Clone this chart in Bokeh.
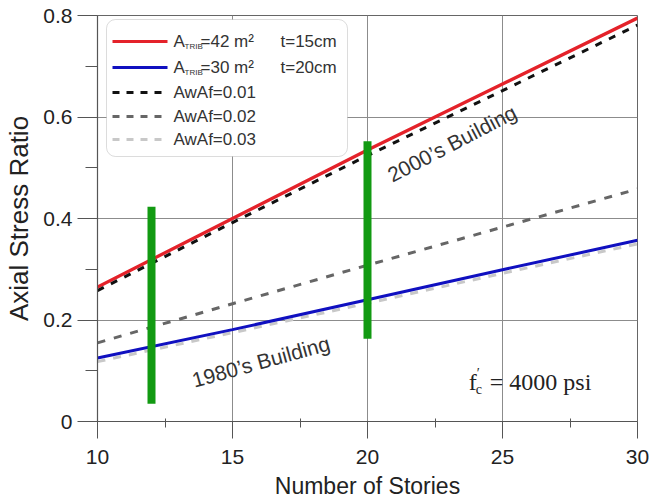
from bokeh.plotting import figure
from bokeh.models import Range1d, FixedTicker, Label, Arrow, BoxAnnotation
from bokeh.embed import file_html
from bokeh.resources import INLINE

# ---------------- data ----------------
stories = [10, 15, 20, 25, 30]
red_42m2 = [0.265, 0.400, 0.535, 0.665, 0.795]
blue_30m2 = [0.125, 0.181, 0.240, 0.299, 0.357]
awaf_001 = [0.258, 0.392, 0.524, 0.652, 0.781]
awaf_002 = [0.155, 0.232, 0.308, 0.383, 0.458]
awaf_003 = [0.118, 0.175, 0.233, 0.292, 0.350]

bar_x = [12, 20]
bar_bottom = [0.035, 0.163]
bar_top = [0.423, 0.552]

xticks = [10, 15, 20, 25, 30]
xminor = [12.5, 17.5, 22.5, 27.5]
yticks = [0, 0.2, 0.4, 0.6, 0.8]
ytick_labels = ["0", "0.2", "0.4", "0.6", "0.8"]
yminor = [0.1, 0.3, 0.5, 0.7]

FONT = "Liberation Sans"

p = figure(width=649, height=501, x_range=Range1d(10, 30), y_range=Range1d(0, 0.8),
           output_backend="svg", toolbar_location=None,
           min_border_left=97, min_border_right=12, min_border_top=15, min_border_bottom=79,
           x_axis_label="Number of Stories", y_axis_label="Axial Stress Ratio")
p.background_fill_color = "white"
p.border_fill_color = "white"
p.outline_line_color = "#666666"
p.outline_line_width = 1

p.xaxis.ticker = FixedTicker(ticks=xticks, minor_ticks=xminor)
p.yaxis.ticker = FixedTicker(ticks=yticks, minor_ticks=yminor)
p.yaxis.major_label_overrides = dict(zip(yticks, ytick_labels))

for ax in (p.xaxis[0], p.yaxis[0]):
    ax.axis_line_color = "#555555"
    ax.axis_line_width = 1.2
    ax.major_tick_line_color = "#555555"
    ax.minor_tick_line_color = "#555555"
    ax.major_tick_in = 0
    ax.axis_label_text_font = FONT
    ax.axis_label_text_font_style = "normal"
    ax.axis_label_text_color = "#222222"
    ax.major_label_text_font = FONT
    ax.major_label_text_color = "#222222"

p.xaxis.major_tick_out = 17
p.xaxis.minor_tick_out = 6
p.xaxis.minor_tick_in = 3
p.xaxis.major_label_standoff = 11
p.xaxis.major_label_text_font_size = "21px"
p.xaxis.axis_label_text_font_size = "23px"
p.xaxis.axis_label_standoff = 6

p.yaxis.major_tick_out = 20
p.yaxis.minor_tick_out = 12
p.yaxis.minor_tick_in = 0
p.yaxis.major_label_standoff = 5
p.yaxis.major_label_text_font_size = "21px"
p.yaxis.axis_label_text_font_size = "26px"
p.yaxis.axis_label_standoff = 6

p.xgrid.ticker = FixedTicker(ticks=xticks)
p.ygrid.ticker = FixedTicker(ticks=yticks)
p.grid.grid_line_color = "#8c8c8c"
p.grid.grid_line_width = 1

# ---------------- series ----------------
p.line(stories, awaf_003, line_color="#c8c8c8", line_width=3, line_dash="8 8")
p.line(stories, blue_30m2, line_color="#1010c0", line_width=3)
p.line(stories, awaf_002, line_color="#666666", line_width=3, line_dash="8 9")
p.line(stories, red_42m2, line_color="#e4222a", line_width=3.3)
p.line(stories, awaf_001, line_color="#111111", line_width=3, line_dash="7 8")

p.segment(x0=bar_x, y0=bar_bottom, x1=bar_x, y1=bar_top,
          line_color="#129a12", line_width=8, line_cap="butt")

# ---------------- annotations ----------------
p.add_layout(Label(x=23.13, y=0.548, text="2000\u2019s Building", angle=0.48,
                   text_align="center", text_baseline="middle",
                   text_font=FONT, text_font_size="21px", text_color="#333333"))
p.add_layout(Label(x=16.05, y=0.118, text="1980\u2019s Building", angle=0.27,
                   text_align="center", text_baseline="middle",
                   text_font=FONT, text_font_size="21px", text_color="#333333"))

SERIF = "Liberation Serif"
FX, FY = 23.75, 0.077
p.add_layout(Label(x=FX, y=FY, text="f", text_align="left", text_baseline="middle",
                   text_font=SERIF, text_font_size="24px", text_color="#222222"))
p.add_layout(Label(x=FX, y=FY, x_offset=7, y_offset=-7, text="c", text_align="left",
                   text_baseline="middle", text_font=SERIF, text_font_size="14px",
                   text_color="#222222"))
p.add_layout(Label(x=FX, y=FY, x_offset=8, y_offset=9, text="\u2032", text_align="left",
                   text_baseline="middle", text_font=SERIF, text_font_size="14px",
                   text_color="#222222"))
p.add_layout(Label(x=FX, y=FY, x_offset=21, text="= 4000 psi", text_align="left",
                   text_baseline="middle", text_font=SERIF, text_font_size="24px",
                   text_color="#222222"))

# ---------------- legend (drawn by hand, screen units relative to frame) ----------------
legend_labels = ["=42 m\u00b2", "=30 m\u00b2", "AwAf=0.01", "AwAf=0.02", "AwAf=0.03"]
legend_extra = ["t=15cm", "t=20cm", "", "", ""]
legend_colors = ["#e4222a", "#1010c0", "#111111", "#666666", "#c8c8c8"]
legend_dash = ["solid", "solid", "7 7", "7 7", "7 7"]

p.add_layout(BoxAnnotation(left=9, right=250, top=402, bottom=265,
                           left_units="screen", right_units="screen",
                           top_units="screen", bottom_units="screen",
                           fill_color="white", fill_alpha=1.0,
                           line_color="#8a8a8a", line_width=1, border_radius=9))
row_y = [380, 354, 329, 305, 282]
for i in range(5):
    p.add_layout(Arrow(end=None, x_start=15, y_start=row_y[i], x_end=70, y_end=row_y[i],
                       start_units="screen", end_units="screen",
                       line_color=legend_colors[i], line_width=3, line_dash=legend_dash[i]))
    if i < 2:
        p.add_layout(Label(x=76, y=row_y[i], x_units="screen", y_units="screen", text="A",
                           text_baseline="middle", text_font=FONT, text_font_size="17px",
                           text_color="#333333"))
        p.add_layout(Label(x=87, y=row_y[i] - 5, x_units="screen", y_units="screen", text="TRIB",
                           text_baseline="middle", text_font=FONT, text_font_size="8px",
                           text_color="#333333"))
        p.add_layout(Label(x=103, y=row_y[i], x_units="screen", y_units="screen",
                           text=legend_labels[i], text_baseline="middle", text_font=FONT,
                           text_font_size="17px", text_color="#333333"))
        p.add_layout(Label(x=183, y=row_y[i], x_units="screen", y_units="screen",
                           text=legend_extra[i], text_baseline="middle", text_font=FONT,
                           text_font_size="17px", text_color="#333333"))
    else:
        p.add_layout(Label(x=76, y=row_y[i], x_units="screen", y_units="screen",
                           text=legend_labels[i], text_baseline="middle", text_font=FONT,
                           text_font_size="17px", text_color="#333333"))

open("out.html", "w").write(file_html(p, INLINE))
